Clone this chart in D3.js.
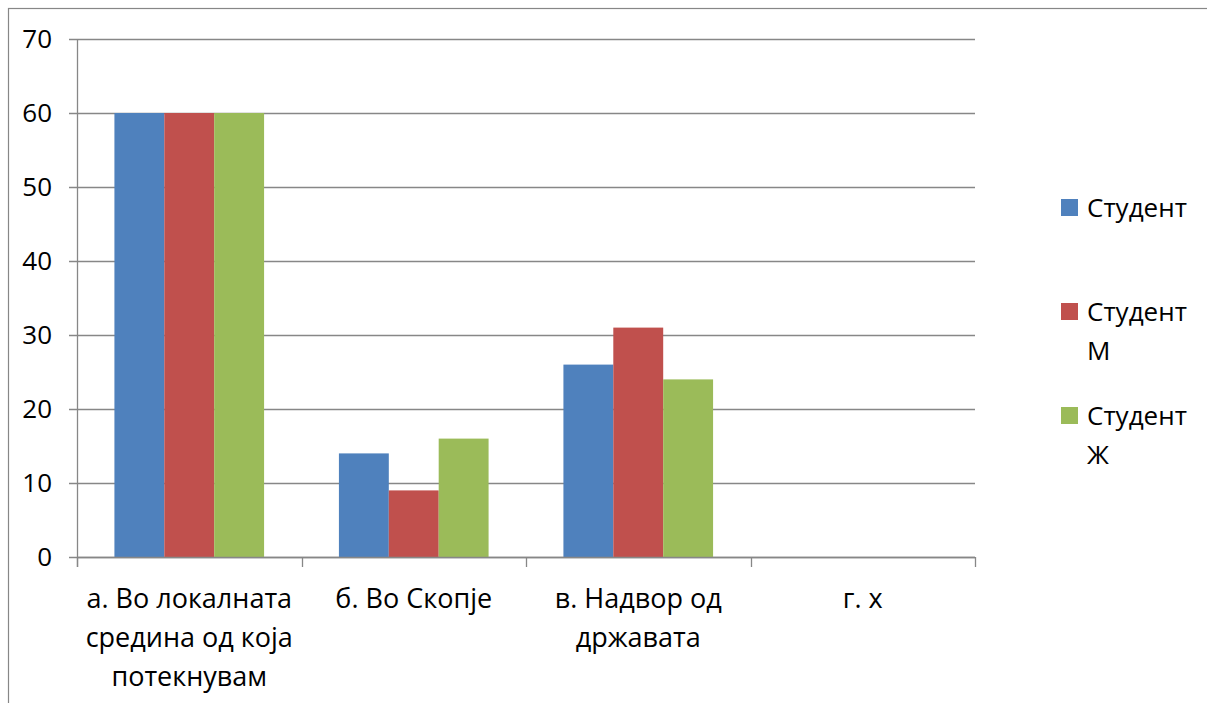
<!DOCTYPE html>
<html>
<head>
<meta charset="utf-8">
<script src="https://cdn.jsdelivr.net/npm/d3@7"></script>
<style>
  body { margin: 0; background: #fff; }
  svg { display: block; font-family: "Open Sans", "Noto Sans", sans-serif; }
</style>
</head>
<body>
<script>
// data
var categories = ["а. Во локалната средина од која потекнувам", "б. Во Скопје", "в. Надвор од државата", "г. х"];
var seriesNames = ["Студент", "Студент М", "Студент Ж"];
var student = [60, 14, 26, 0];
var studentM = [60, 9, 31, 0];
var studentZ = [60, 16, 24, 0];
var yTicks = [0, 10, 20, 30, 40, 50, 60, 70];
var colors = ["#4f81bd", "#c0504d", "#9bbb59"];

var seriesValues = [student, studentM, studentZ];

var W = 1207, H = 703;
var margin = { left: 77, top: 39 };
var width = 898, height = 518;
var gridColor = "#878787";

var svg = d3.select("body").append("svg")
	.attr("width", W)
	.attr("height", H);

// outer chart frame (cut off on right and bottom like the original)
svg.append("rect")
	.attr("x", 8.5)
	.attr("y", 8.5)
	.attr("width", W + 20)
	.attr("height", H + 20)
	.attr("fill", "none")
	.attr("stroke", gridColor)
	.attr("stroke-width", 1.2);

var g = svg.append("g")
	.attr("transform", "translate(" + margin.left + "," + margin.top + ")");

var y = d3.scaleLinear().domain([0, 70]).range([height, 0]);
var x0 = d3.scaleBand().domain(categories).range([0, width]).padding(0);
var bw = x0.bandwidth();
var x1 = d3.scaleBand().domain(seriesNames).range([bw / 6, bw - bw / 6]).padding(0);

// gridlines
g.append("g")
	.selectAll("line")
	.data(yTicks)
	.enter()
	.append("line")
	.attr("x1", -8)
	.attr("x2", width)
	.attr("y1", function (d) { return Math.round(y(d)) + 0.5; })
	.attr("y2", function (d) { return Math.round(y(d)) + 0.5; })
	.attr("stroke", gridColor)
	.attr("stroke-width", 1.3);

// y axis labels
var yAxis = g.append("g")
	.call(d3.axisLeft(y).tickValues(yTicks).tickSize(0).tickPadding(25));
yAxis.select(".domain").remove();
yAxis.selectAll("text")
	.attr("font-family", "Open Sans, sans-serif")
	.attr("font-size", "26px")
	.attr("fill", "#000");

// bars
var groups = g.selectAll(".cat")
	.data(categories)
	.enter()
	.append("g")
	.attr("class", "cat")
	.attr("transform", function (d) { return "translate(" + x0(d) + ",0)"; });

groups.selectAll("rect")
	.data(function (d, i) {
		return seriesNames.map(function (s, j) {
			return { name: s, value: seriesValues[j][i], color: colors[j] };
		});
	})
	.enter()
	.append("rect")
	.attr("x", function (d) { return x1(d.name); })
	.attr("width", x1.bandwidth())
	.attr("y", function (d) { return y(d.value); })
	.attr("height", function (d) { return height - y(d.value); })
	.attr("fill", function (d) { return d.color; });

// y axis line
g.append("line")
	.attr("x1", 0.5).attr("x2", 0.5)
	.attr("y1", 0).attr("y2", height + 10)
	.attr("stroke", gridColor)
	.attr("stroke-width", 1.3);

// x axis line + ticks on category boundaries
g.append("line")
	.attr("x1", 0).attr("x2", width)
	.attr("y1", height + 0.5).attr("y2", height + 0.5)
	.attr("stroke", gridColor)
	.attr("stroke-width", 1.3);

var bounds = categories.map(function (c) { return x0(c); }).concat([width]);
g.selectAll(".xtick")
	.data(bounds)
	.enter()
	.append("line")
	.attr("class", "xtick")
	.attr("x1", function (d) { return Math.round(d) + 0.5; })
	.attr("x2", function (d) { return Math.round(d) + 0.5; })
	.attr("y1", height)
	.attr("y2", height + 10)
	.attr("stroke", gridColor)
	.attr("stroke-width", 1.3);

// category labels, wrapped to the band width
var labels = g.selectAll(".xlabel")
	.data(categories)
	.enter()
	.append("text")
	.attr("class", "xlabel")
	.attr("text-anchor", "middle")
	.attr("font-size", "27px")
	.attr("fill", "#000")
	.attr("transform", function (d) { return "translate(" + (x0(d) + bw / 2) + "," + (height + 51) + ")"; })
	.each(function (d) { wrap(d3.select(this), d, bw - 4); });

function wrap(text, str, maxW) {
	var words = str.split(" ");
	var line = [];
	var lineNo = 0;
	var tspan = text.append("tspan").attr("x", 0).attr("y", 0);
	words.forEach(function (w) {
		line.push(w);
		tspan.text(line.join(" "));
		if (tspan.node().getComputedTextLength() > maxW && line.length > 1) {
			line.pop();
			tspan.text(line.join(" "));
			line = [w];
			lineNo++;
			tspan = text.append("tspan").attr("x", 0).attr("y", lineNo * 39).text(w);
		}
	});
}

// legend
var legend = svg.append("g")
	.attr("transform", "translate(1061,199)");

var items = legend.selectAll("g")
	.data(seriesNames)
	.enter()
	.append("g")
	.attr("transform", function (d, i) { return "translate(0," + (i * 104) + ")"; });

items.append("rect")
	.attr("width", 17)
	.attr("height", 17)
	.attr("fill", function (d, i) { return colors[i]; });

items.append("text")
	.attr("font-size", "26px")
	.attr("fill", "#000")
	.each(function (d) {
		var t = d3.select(this);
		d.split(" ").forEach(function (w, k) {
			t.append("tspan").attr("x", 26).attr("y", 18 + k * 39).text(w);
		});
	});
</script>
</body>
</html>
